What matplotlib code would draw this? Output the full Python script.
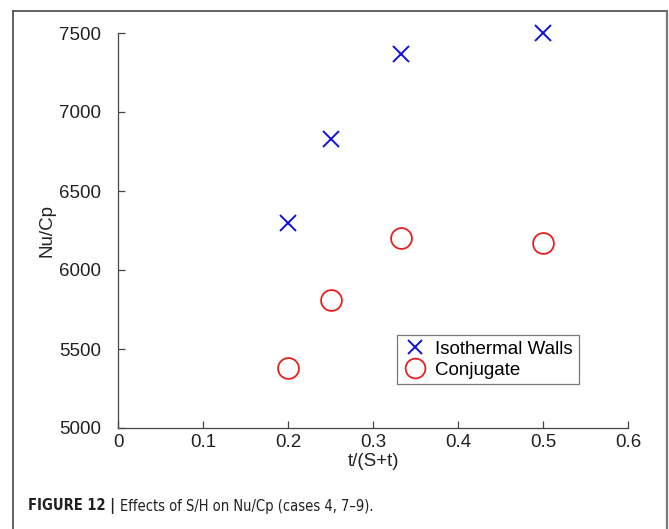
import matplotlib
matplotlib.use("Agg")
import matplotlib.pyplot as plt
from matplotlib.lines import Line2D
from matplotlib import font_manager

plt.rcParams['font.family'] = ['Liberation Sans', 'DejaVu Sans']

x_vals = [0.2, 0.25, 1/3, 0.5]
isothermal = [6300, 6830, 7365, 7500]
conjugate = [5380, 5810, 6200, 6170]
xticks = [0, 0.1, 0.2, 0.3, 0.4, 0.5, 0.6]
xticklabels = ['0', '0.1', '0.2', '0.3', '0.4', '0.5', '0.6']
yticks = [5000, 5500, 6000, 6500, 7000, 7500]
caption_bold = 'FIGURE 12 | '
caption_text = 'Effects of S/H on Nu/Cp (cases 4, 7–9).'


def is_condensed(f):
    st = str(f.stretch).lower()
    return ('condensed' in st or 'narrow' in f.name.lower() or 'condensed' in f.name.lower()
            or 'narrow' in f.fname.lower() or 'condensed' in f.fname.lower())


def wnum(w):
    try:
        return int(w)
    except Exception:
        return {'normal': 400, 'regular': 400, 'book': 400, 'bold': 700}.get(str(w).lower(), 400)


reg_face, bold_face = None, None
for f in font_manager.fontManager.ttflist:
    if not is_condensed(f) or f.style != 'normal':
        continue
    if wnum(f.weight) <= 450 and reg_face is None:
        reg_face = f
    if wnum(f.weight) >= 600 and bold_face is None:
        bold_face = f

W, H = 669, 529
fig = plt.figure(figsize=(W/100, H/100), dpi=100)
ax = fig.add_axes([118/W, 1-428/H, (628-118)/W, (428-33)/H])

ax.plot(x_vals, isothermal, linestyle='none', marker='x', color='#1010e0',
        markersize=11, markeredgewidth=1.4, label='Isothermal Walls', clip_on=False)
ax.plot(x_vals, conjugate, linestyle='none', marker='o', markerfacecolor='none',
        markeredgecolor='#e82020', markersize=15, markeredgewidth=1.3, label='Conjugate', clip_on=False)

ax.set_xlim(0, 0.6)
ax.set_ylim(5000, 7500)
ax.set_xticks(xticks)
ax.set_xticklabels(xticklabels)
ax.set_yticks(yticks)
for s in ['top', 'right']:
    ax.spines[s].set_visible(False)
for s in ['left', 'bottom']:
    ax.spines[s].set_color('#444444')
    ax.spines[s].set_linewidth(0.9)
ax.tick_params(direction='in', length=5, width=0.9, colors='#444444', labelcolor='#222222',
               labelsize=13.5)
ax.tick_params(axis='y', pad=12)
ax.tick_params(axis='x', pad=4)
ax.set_xlabel('t/(S+t)', fontsize=13.5, color='#222222', labelpad=2)
ax.set_ylabel('Nu/Cp', fontsize=13.5, color='#222222', labelpad=3)

leg = ax.legend(loc='upper left', bbox_to_anchor=((397-118)/510, (428-335)/395),
                fontsize=13.5, frameon=True, fancybox=False, edgecolor='#555555',
                handlelength=1.3, handletextpad=0.45, borderpad=0.3, labelspacing=0.2,
                borderaxespad=0, markerscale=0.95)
leg.get_frame().set_linewidth(0.9)

# outer frame (no bottom edge)
fig.add_artist(Line2D([13/W, 13/W], [0, 1-11/H], transform=fig.transFigure, color='#555555', lw=1.3))
fig.add_artist(Line2D([13/W, 667/W], [1-11/H, 1-11/H], transform=fig.transFigure, color='#555555', lw=1.3))
fig.add_artist(Line2D([667/W, 667/W], [1-11/H, 0], transform=fig.transFigure, color='#777777', lw=1.6))


def cap_props(size, bold):
    face = bold_face if bold else reg_face
    if face is not None:
        return font_manager.FontProperties(fname=face.fname, size=size)
    return font_manager.FontProperties(family=['Liberation Sans'], size=size,
                                       weight='bold' if bold else 'normal')


def draw_caption(size):
    t1 = fig.text(28/W, 1-506/H, caption_bold, color='#222222', va='center', ha='left',
                  fontproperties=cap_props(size, True))
    fig.canvas.draw()
    bb = t1.get_window_extent()
    t2 = fig.text(bb.x1/W, 1-506/H, caption_text, color='#222222', va='center', ha='left',
                  fontproperties=cap_props(size, False))
    fig.canvas.draw()
    return t1, t2


t1, t2 = draw_caption(12.5)
width = t2.get_window_extent().x1 - t1.get_window_extent().x0
size = max(10.5, min(13.0, 12.5 * 324 / width))
t1.remove()
t2.remove()
draw_caption(size)

fig.savefig('out.png', dpi=100)
